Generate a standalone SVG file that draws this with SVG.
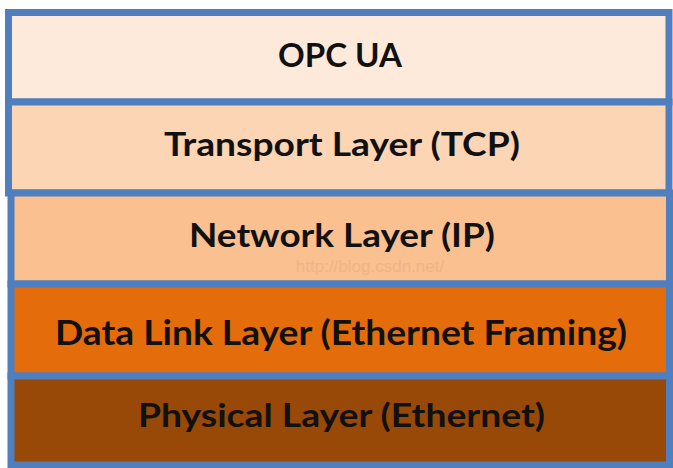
<svg xmlns="http://www.w3.org/2000/svg" width="673" height="468" viewBox="0 0 673 468">
<style>
.box{stroke:#4F7FBE;stroke-width:7}
.lbl{font-family:Lato,"Open Sans","Liberation Sans",sans-serif;font-weight:bold;font-size:32px;fill:#111;text-anchor:middle}
.wm{font-family:"Liberation Sans",sans-serif;font-size:17px;fill:#E9AE82;text-anchor:middle}
</style>
<rect x="0" y="0" width="673" height="468" fill="#fff"/>
<g id="opcua">
<rect class="box" x="8.5" y="12.5" width="660.5" height="89.5" fill="#FDEADA"/>
<text class="lbl" x="340" y="67" textLength="124" lengthAdjust="spacingAndGlyphs">OPC UA</text>
</g>
<g id="transport">
<rect class="box" x="8.5" y="102" width="660.5" height="91" fill="#FCD5B5"/>
<text class="lbl" x="342" y="156" textLength="356" lengthAdjust="spacingAndGlyphs">Transport Layer (TCP)</text>
</g>
<g id="network">
<rect class="box" x="11" y="193" width="658.5" height="91" fill="#FAC090"/>
<text class="wm" x="370" y="272" opacity="0.6">http://blog.csdn.net/</text>
<text class="lbl" x="342" y="247" textLength="306" lengthAdjust="spacingAndGlyphs">Network Layer (IP)</text>
</g>
<g id="datalink">
<rect class="box" x="11" y="284" width="658.5" height="92" fill="#E46C0A"/>
<text class="lbl" x="341" y="345" textLength="572" lengthAdjust="spacingAndGlyphs" style="font-size:34px">Data Link Layer (Ethernet Framing)</text>
</g>
<g id="physical">
<rect class="box" x="11" y="376" width="658.5" height="89" fill="#984807"/>
<text class="lbl" x="341.5" y="427" textLength="407" lengthAdjust="spacingAndGlyphs">Physical Layer (Ethernet)</text>
</g>
<g id="connectors"></g>
</svg>
